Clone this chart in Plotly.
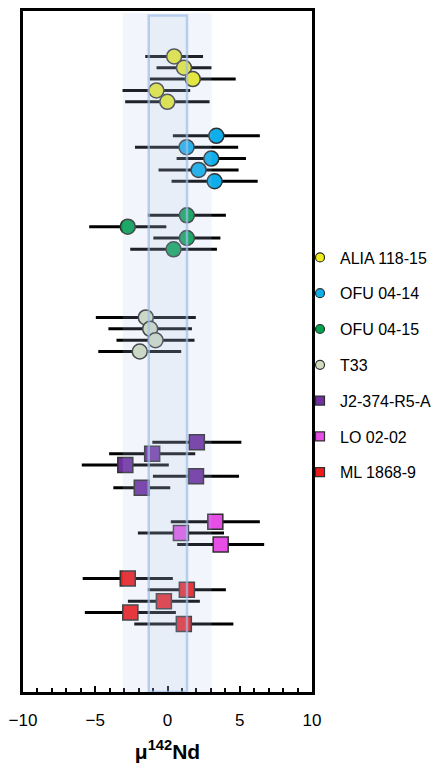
import plotly.graph_objects as go

# ---- data ----
names = ["ALIA 118-15", "OFU 04-14", "OFU 04-15", "T33", "J2-374-R5-A", "LO 02-02", "ML 1868-9"]
symbols = ["circle", "circle", "circle", "circle", "square", "square", "square"]
colors = ["#eeee1e", "#0eaeea", "#00a24e", "#d2dcc0", "#7030a0", "#e64ee6", "#ee1c1c"]

alia_x = [0.46, 1.14, 1.75, -0.77, -0.01]
alia_err = [2.0, 1.9, 2.97, 2.34, 2.92]
alia_y = [0, 1, 2, 3, 4]

ofu14_x = [3.38, 1.32, 3.03, 2.15, 3.26]
ofu14_err = [3.01, 3.57, 2.4, 2.77, 2.98]
ofu14_y = [7, 8, 9, 10, 11]

ofu15_x = [1.34, -2.75, 1.34, 0.42]
ofu15_err = [2.7, 2.67, 2.32, 3.0]
ofu15_y = [14, 15, 16, 17]

t33_x = [-1.5, -1.2, -0.83, -1.92]
t33_err = [3.46, 2.89, 2.7, 2.87]
t33_y = [23, 24, 25, 26]

j2_x = [2.03, -1.06, -2.92, 1.97, -1.78]
j2_err = [3.08, 2.98, 3.01, 2.98, 1.97]
j2_y = [34, 35, 36, 37, 38]

lo_x = [3.31, 0.93, 3.68]
lo_err = [3.08, 2.98, 3.01]
lo_y = [41, 42, 43]

ml_x = [-2.75, 1.34, -0.25, -2.57, 1.13]
ml_err = [3.12, 2.7, 2.49, 3.15, 3.43]
ml_y = [46, 47, 48, 49, 50]

series_x = [alia_x, ofu14_x, ofu15_x, t33_x, j2_x, lo_x, ml_x]
series_err = [alia_err, ofu14_err, ofu15_err, t33_err, j2_err, lo_err, ml_err]
series_y = [alia_y, ofu14_y, ofu15_y, t33_y, j2_y, lo_y, ml_y]

band_outer = [-3.1, 3.05]
band_inner = [-1.3, 1.35]

x_ticks = [-10, -5, 0, 5, 10]
x_title = "μ<sup>142</sup>Nd"

FONT = "Liberation Sans, Arial, sans-serif"

fig = go.Figure()

for name, sym, col, xs, es, ys in zip(names, symbols, colors, series_x, series_err, series_y):
    fig.add_trace(go.Scatter(
        x=xs, y=ys, mode="markers", showlegend=False,
        marker=dict(symbol=sym, size=15, color=col, line=dict(color="#303030", width=1.5)),
        error_x=dict(type="data", array=es, visible=True, color="black", thickness=3, width=0),
    ))

# legend-only entries
for i, (name, sym, col) in enumerate(zip(names, symbols, colors)):
    fig.add_trace(go.Scatter(
        x=[None], y=[None], mode="markers", name=name, legendgroup=f"g{i}",
        marker=dict(symbol=sym, size=9, color=col, line=dict(color="#303030", width=1.2)),
    ))

# bands
fig.add_shape(type="rect", xref="x", yref="y", x0=band_outer[0], x1=band_outer[1], y0=-3.8, y1=56,
              fillcolor="rgba(175,198,232,0.17)", line=dict(width=0), layer="above")
fig.add_shape(type="rect", xref="x", yref="y", x0=band_inner[0], x1=band_inner[1], y0=-3.6, y1=56,
              fillcolor="rgba(175,198,232,0.14)", line=dict(color="rgba(160,190,232,0.7)", width=2.5), layer="above")

fig.update_layout(
    width=435, height=763,
    margin=dict(l=23, r=123, t=11, b=71, autoexpand=False),
    paper_bgcolor="white", plot_bgcolor="white",
    font=dict(family=FONT, color="black"),
    legend=dict(x=0.9585, xanchor="left", y=0.663, yanchor="top", font=dict(size=16, family=FONT),
                traceorder="grouped", tracegroupgap=12, bgcolor="rgba(0,0,0,0)",
                itemsizing="trace"),
    xaxis=dict(range=[-10, 10], tickvals=x_ticks, ticks="inside", ticklen=6, tickwidth=2,
               tickcolor="black", showgrid=False, zeroline=False,
               showline=True, linewidth=3, linecolor="black", mirror=True,
               tickfont=dict(size=17, family=FONT), ticklabelstandoff=11,
               minor=dict(dtick=1, ticks="inside", ticklen=4, tickwidth=2, tickcolor="black", showgrid=False),
               title=dict(text=x_title, font=dict(size=21, family=FONT, weight="bold"), standoff=26)),
    yaxis=dict(range=[56, -4], showticklabels=False, ticks="", showgrid=False, zeroline=False,
               showline=True, linewidth=3, linecolor="black", mirror=True),
)

fig.write_html("out.html")
